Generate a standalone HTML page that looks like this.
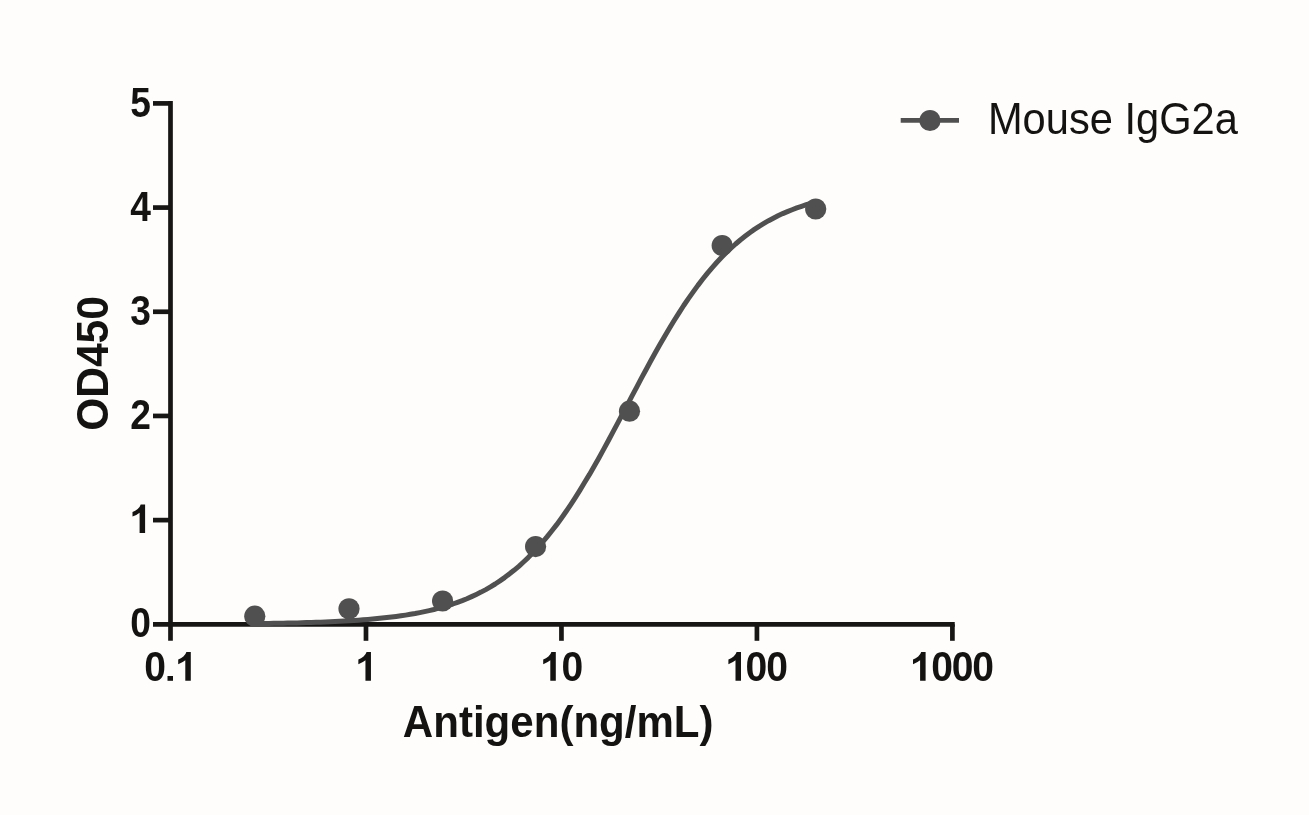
<!DOCTYPE html>
<html>
<head>
<meta charset="utf-8">
<title>Chart</title>
<style>
html,body{margin:0;padding:0;background:#fefdfb;}
body{width:1309px;height:815px;overflow:hidden;font-family:"Liberation Sans",sans-serif;}
svg{display:block;will-change:transform;}
text{font-family:"Liberation Sans",sans-serif;fill:#141312;}
.b{font-weight:bold;}
</style>
</head>
<body>
<svg width="1309" height="815" viewBox="0 0 1309 815">
<rect width="1309" height="815" fill="#fefdfb"/>
<!-- axes and ticks -->
<g stroke="#171615" stroke-width="4.70" fill="none" stroke-linecap="butt">
<line x1="170.50" y1="101.05" x2="170.50" y2="640.80"/>
<line x1="153.00" y1="624.30" x2="954.75" y2="624.30"/>
<line x1="153.00" y1="520.12" x2="170.50" y2="520.12"/>
<line x1="153.00" y1="415.94" x2="170.50" y2="415.94"/>
<line x1="153.00" y1="311.76" x2="170.50" y2="311.76"/>
<line x1="153.00" y1="207.58" x2="170.50" y2="207.58"/>
<line x1="153.00" y1="103.40" x2="170.50" y2="103.40"/>
<line x1="365.98" y1="624.30" x2="365.98" y2="640.80"/>
<line x1="561.45" y1="624.30" x2="561.45" y2="640.80"/>
<line x1="756.92" y1="624.30" x2="756.92" y2="640.80"/>
<line x1="952.40" y1="624.30" x2="952.40" y2="640.80"/>
</g>
<!-- y tick labels -->
<text class="b" font-size="42.00" transform="translate(151.00 637.40) scale(0.8850 1)" text-anchor="end">0</text>
<path d="M145.10 533.02 L139.60 533.02 L139.60 512.72 Q136.60 515.22 132.50 516.62 L132.50 512.02 Q135.30 511.12 137.70 509.02 Q139.90 507.12 140.70 504.42 L145.10 504.42 Z" fill="#141312"/>
<text class="b" font-size="42.00" transform="translate(151.00 429.04) scale(0.8850 1)" text-anchor="end">2</text>
<text class="b" font-size="42.00" transform="translate(151.00 324.86) scale(0.8850 1)" text-anchor="end">3</text>
<text class="b" font-size="42.00" transform="translate(151.00 220.68) scale(0.8850 1)" text-anchor="end">4</text>
<text class="b" font-size="42.00" transform="translate(151.00 116.50) scale(0.8850 1)" text-anchor="end">5</text>
<!-- x tick labels: 0.1 1 10 100 1000 -->
<text class="b" font-size="42.00" transform="translate(155.05 680.80) scale(0.9300 1)" text-anchor="middle">0</text>
<rect x="167.5" y="676.0" width="5.5" height="4.8" fill="#141312"/>
<path d="M190.80 680.80 L185.30 680.80 L185.30 660.30 Q182.30 662.80 178.20 664.20 L178.20 659.60 Q181.00 658.70 183.40 656.60 Q185.60 654.70 186.40 652.00 L190.80 652.00 Z" fill="#141312"/>
<path d="M370.95 680.80 L365.45 680.80 L365.45 660.30 Q362.45 662.80 358.35 664.20 L358.35 659.60 Q361.15 658.70 363.55 656.60 Q365.75 654.70 366.55 652.00 L370.95 652.00 Z" fill="#141312"/>
<path d="M555.80 680.80 L550.30 680.80 L550.30 660.30 Q547.30 662.80 543.20 664.20 L543.20 659.60 Q546.00 658.70 548.40 656.60 Q550.60 654.70 551.40 652.00 L555.80 652.00 Z" fill="#141312"/>
<text class="b" font-size="42.00" transform="translate(572.30 680.80) scale(0.9300 1)" text-anchor="middle">0</text>
<path d="M741.00 680.80 L735.50 680.80 L735.50 660.30 Q732.50 662.80 728.40 664.20 L728.40 659.60 Q731.20 658.70 733.60 656.60 Q735.80 654.70 736.60 652.00 L741.00 652.00 Z" fill="#141312"/>
<text class="b" font-size="42.00" transform="translate(756.40 680.80) scale(0.9300 1)" text-anchor="middle">0</text>
<text class="b" font-size="42.00" transform="translate(777.00 680.80) scale(0.9300 1)" text-anchor="middle">0</text>
<path d="M925.60 680.80 L920.10 680.80 L920.10 660.30 Q917.10 662.80 913.00 664.20 L913.00 659.60 Q915.80 658.70 918.20 656.60 Q920.40 654.70 921.20 652.00 L925.60 652.00 Z" fill="#141312"/>
<text class="b" font-size="42.00" transform="translate(942.05 680.80) scale(0.9300 1)" text-anchor="middle">0</text>
<text class="b" font-size="42.00" transform="translate(962.70 680.80) scale(0.9300 1)" text-anchor="middle">0</text>
<text class="b" font-size="42.00" transform="translate(983.10 680.80) scale(0.9300 1)" text-anchor="middle">0</text>
<!-- axis titles -->
<text class="b" font-size="43.90" transform="translate(558.20 736.80) scale(0.9585 1)" text-anchor="middle">Antigen(ng/mL)</text>
<text class="b" font-size="45.30" transform="translate(107.80 363.50) rotate(-90) scale(0.9380 1)" text-anchor="middle">OD450</text>
<!-- fitted curve and data points -->
<path d="M254.8 623.6 L259.5 623.6 L264.2 623.5 L268.9 623.4 L273.7 623.3 L278.4 623.3 L283.1 623.2 L287.8 623.1 L292.5 623.0 L297.2 622.9 L301.9 622.7 L306.6 622.6 L311.4 622.5 L316.1 622.3 L320.8 622.2 L325.5 622.0 L330.2 621.8 L334.9 621.6 L339.6 621.3 L344.4 621.1 L349.1 620.8 L353.8 620.5 L358.5 620.2 L363.2 619.8 L367.9 619.5 L372.6 619.1 L377.3 618.6 L382.1 618.1 L386.8 617.6 L391.5 617.1 L396.2 616.5 L400.9 615.8 L405.6 615.1 L410.3 614.3 L415.1 613.5 L419.8 612.6 L424.5 611.6 L429.2 610.6 L433.9 609.5 L438.6 608.2 L443.3 606.9 L448.1 605.5 L452.8 604.0 L457.5 602.3 L462.2 600.6 L466.9 598.7 L471.6 596.6 L476.3 594.4 L481.0 592.1 L485.8 589.6 L490.5 586.9 L495.2 584.0 L499.9 580.9 L504.6 577.6 L509.3 574.0 L514.0 570.3 L518.8 566.3 L523.5 562.0 L528.2 557.6 L532.9 552.8 L537.6 547.8 L542.3 542.5 L547.0 536.9 L551.7 531.0 L556.5 524.9 L561.2 518.5 L565.9 511.8 L570.6 504.8 L575.3 497.6 L580.0 490.1 L584.7 482.3 L589.5 474.4 L594.2 466.2 L598.9 457.9 L603.6 449.4 L608.3 440.7 L613.0 431.9 L617.7 423.1 L622.4 414.1 L627.2 405.2 L631.9 396.2 L636.6 387.3 L641.3 378.4 L646.0 369.7 L650.7 361.0 L655.4 352.5 L660.2 344.1 L664.9 336.0 L669.6 328.0 L674.3 320.3 L679.0 312.8 L683.7 305.5 L688.4 298.6 L693.2 291.9 L697.9 285.4 L702.6 279.3 L707.3 273.4 L712.0 267.8 L716.7 262.5 L721.4 257.5 L726.1 252.8 L730.9 248.3 L735.6 244.0 L740.3 240.0 L745.0 236.3 L749.7 232.7 L754.4 229.4 L759.1 226.3 L763.9 223.4 L768.6 220.7 L773.3 218.2 L778.0 215.8 L782.7 213.6 L787.4 211.6 L792.1 209.7 L796.8 207.9 L801.6 206.3 L806.3 204.7 L811.0 203.3 L815.7 202.0" fill="none" stroke="#515050" stroke-width="5.0" stroke-linejoin="round" stroke-linecap="butt"/>
<circle cx="254.80" cy="616.20" r="10.6" fill="#515050"/>
<circle cx="349.00" cy="608.80" r="10.6" fill="#515050"/>
<circle cx="442.60" cy="601.00" r="10.6" fill="#515050"/>
<circle cx="535.60" cy="546.60" r="10.6" fill="#515050"/>
<circle cx="629.50" cy="411.20" r="10.6" fill="#515050"/>
<circle cx="722.20" cy="245.50" r="10.6" fill="#515050"/>
<circle cx="815.70" cy="209.00" r="10.6" fill="#515050"/>
<!-- legend -->
<line x1="900.7" y1="120.45" x2="959" y2="120.45" stroke="#515050" stroke-width="4.8"/>
<circle cx="930" cy="120.5" r="10.6" fill="#515050"/>
<text font-size="44.30" transform="translate(987.90 133.80) scale(0.9400 1)" text-anchor="start">Mouse IgG2a</text>
</svg>
</body>
</html>
